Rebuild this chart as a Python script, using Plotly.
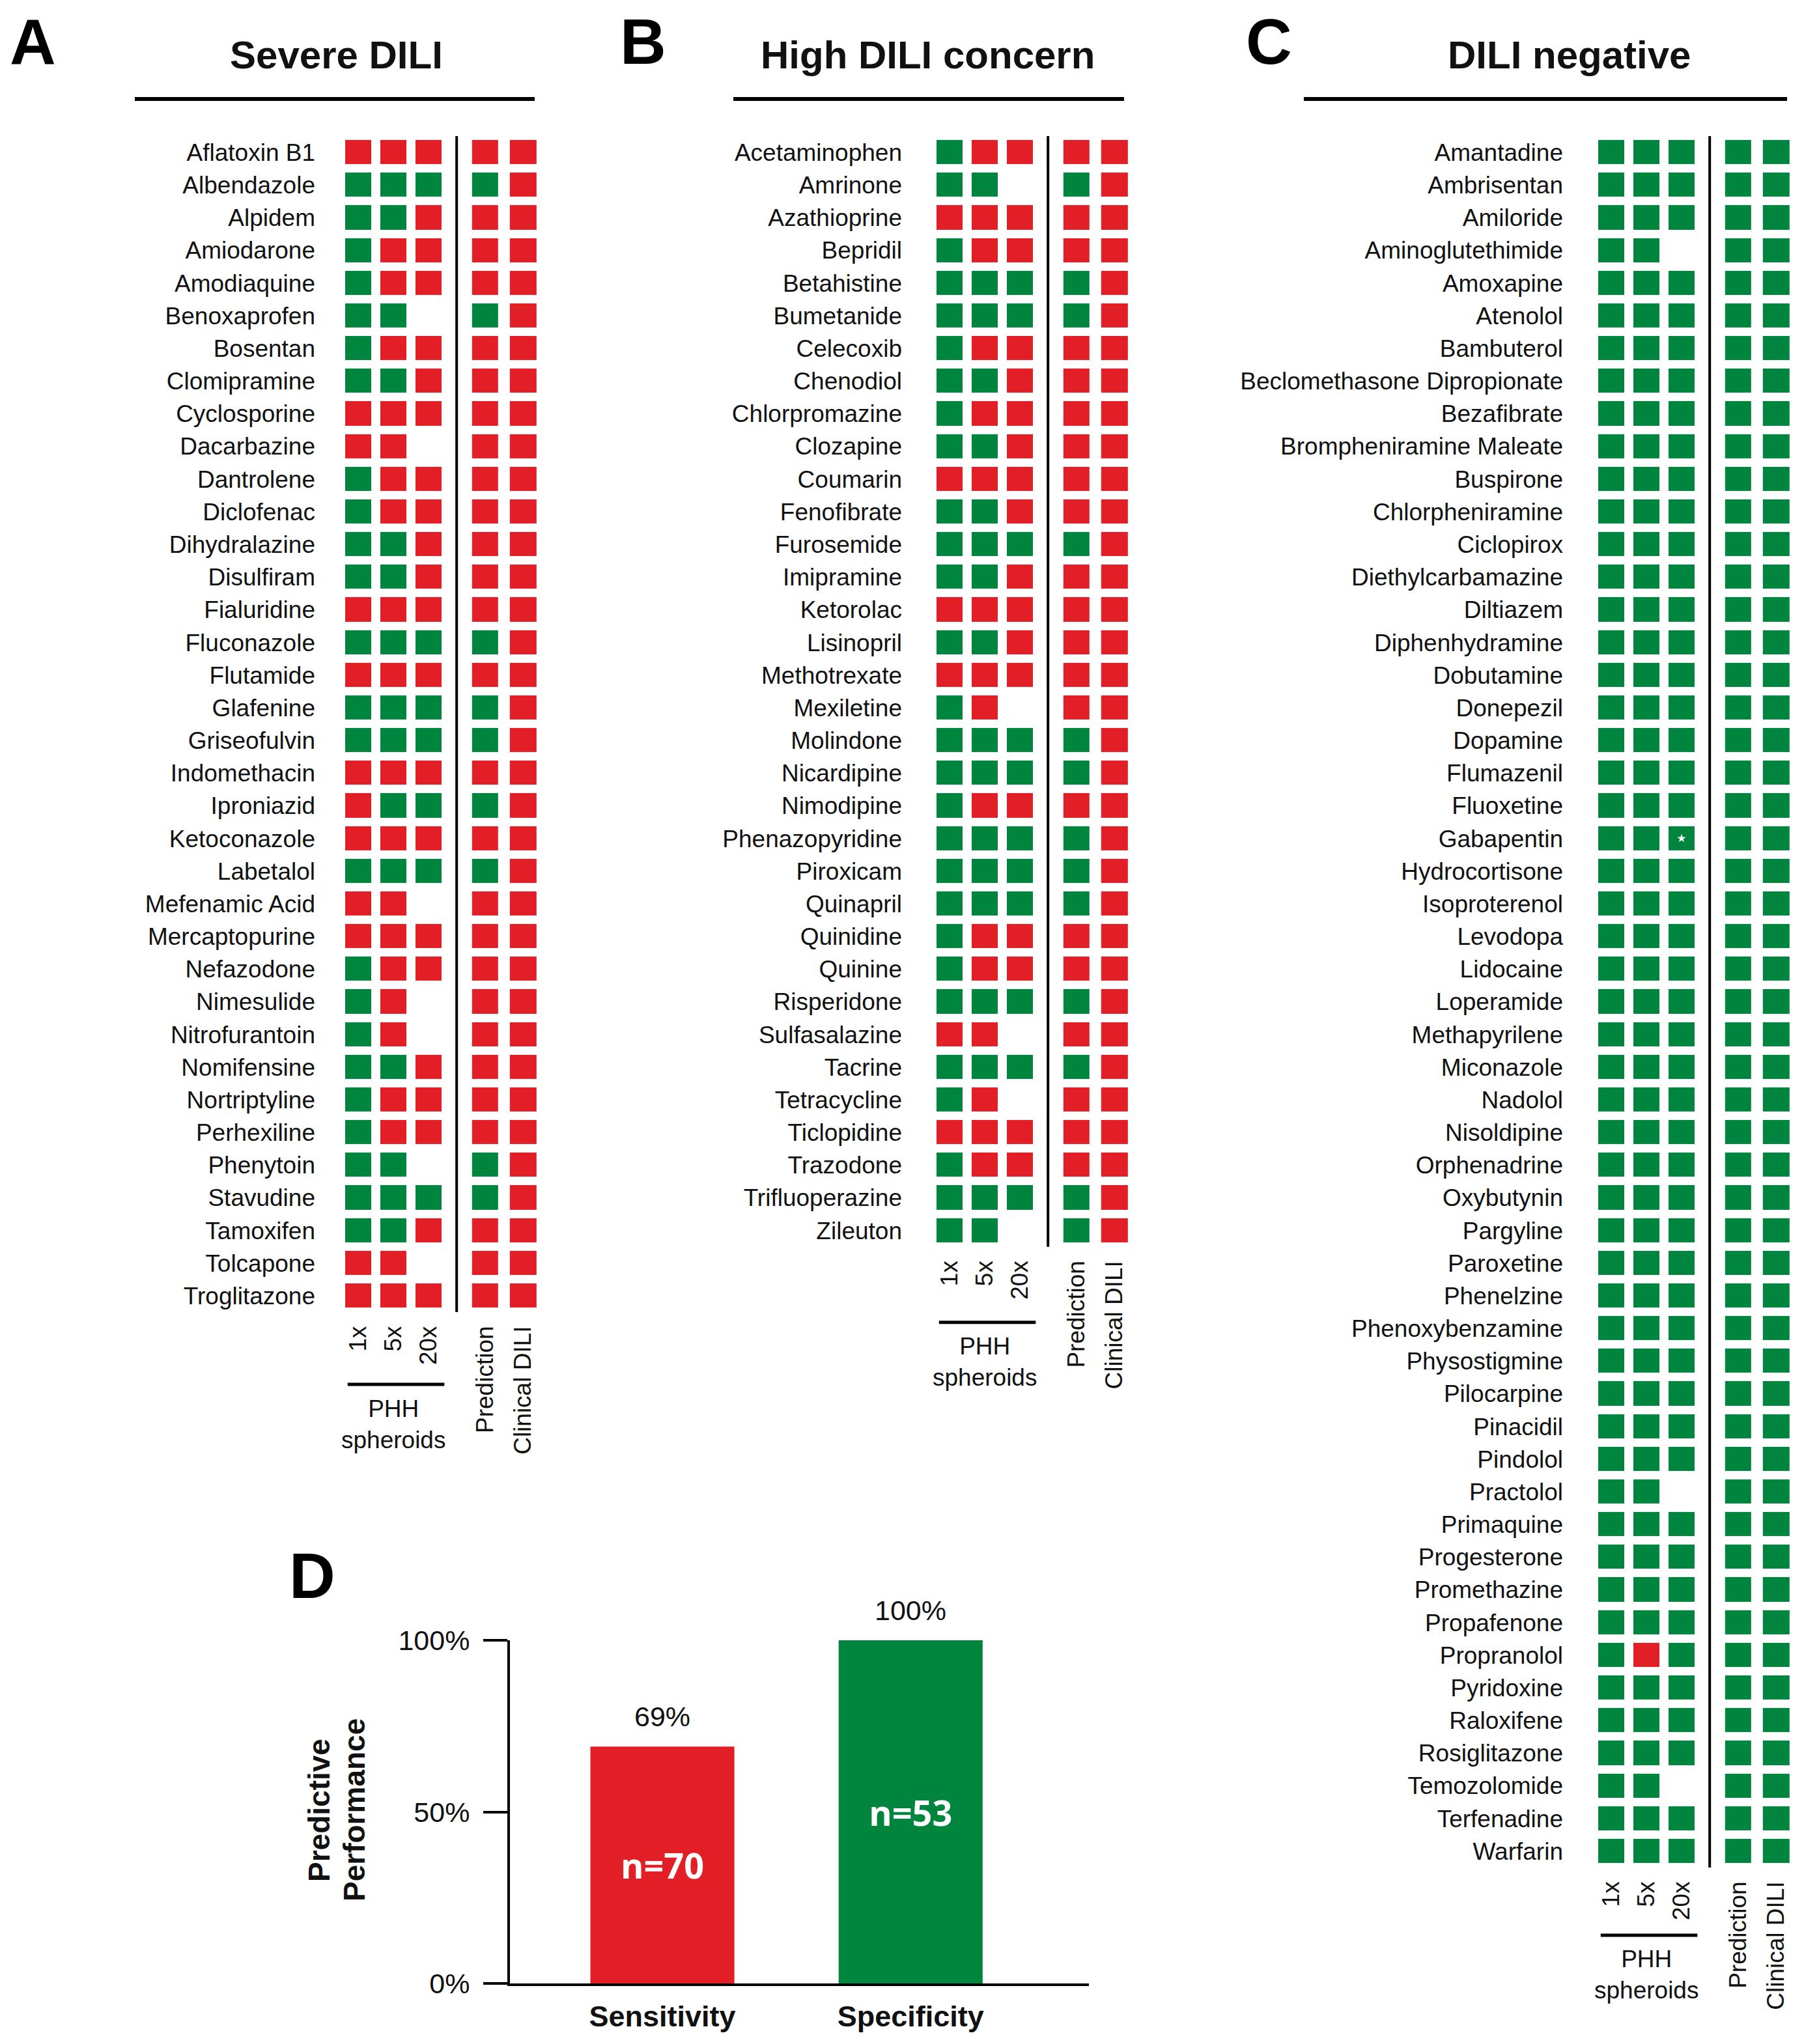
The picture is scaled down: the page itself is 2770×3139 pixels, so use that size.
import plotly.graph_objects as go

# ---------------- data ----------------
R, G, N = 1, 0, None   # R = toxic (red), G = non-toxic (green), N = not tested

columns = ["1x", "5x", "20x", "Prediction", "Clinical DILI"]

severe_drugs = ["Aflatoxin B1", "Albendazole", "Alpidem", "Amiodarone", "Amodiaquine",
                "Benoxaprofen", "Bosentan", "Clomipramine", "Cyclosporine", "Dacarbazine",
                "Dantrolene", "Diclofenac", "Dihydralazine", "Disulfiram", "Fialuridine",
                "Fluconazole", "Flutamide", "Glafenine", "Griseofulvin", "Indomethacin",
                "Iproniazid", "Ketoconazole", "Labetalol", "Mefenamic Acid", "Mercaptopurine",
                "Nefazodone", "Nimesulide", "Nitrofurantoin", "Nomifensine", "Nortriptyline",
                "Perhexiline", "Phenytoin", "Stavudine", "Tamoxifen", "Tolcapone", "Troglitazone"]
severe_1x = [R, G, G, G, G, G, G, G, R, R, G, G, G, G, R, G, R, G,
             G, R, R, R, G, R, R, G, G, G, G, G, G, G, G, G, R, R]
severe_5x = [R, G, G, R, R, G, R, G, R, R, R, R, G, G, R, G, R, G,
             G, R, G, R, G, R, R, R, R, R, G, R, R, G, G, G, R, R]
severe_20x = [R, G, R, R, R, N, R, R, R, N, R, R, R, R, R, G, R, G,
              G, R, G, R, G, N, R, R, N, N, R, R, R, N, G, R, N, R]
severe_pred = [R, G, R, R, R, G, R, R, R, R, R, R, R, R, R, G, R, G,
               G, R, G, R, G, R, R, R, R, R, R, R, R, G, G, R, R, R]
severe_clin = [R, R, R, R, R, R, R, R, R, R, R, R, R, R, R, R, R, R,
               R, R, R, R, R, R, R, R, R, R, R, R, R, R, R, R, R, R]

concern_drugs = ["Acetaminophen", "Amrinone", "Azathioprine", "Bepridil", "Betahistine",
                 "Bumetanide", "Celecoxib", "Chenodiol", "Chlorpromazine", "Clozapine",
                 "Coumarin", "Fenofibrate", "Furosemide", "Imipramine", "Ketorolac",
                 "Lisinopril", "Methotrexate", "Mexiletine", "Molindone", "Nicardipine",
                 "Nimodipine", "Phenazopyridine", "Piroxicam", "Quinapril", "Quinidine",
                 "Quinine", "Risperidone", "Sulfasalazine", "Tacrine", "Tetracycline",
                 "Ticlopidine", "Trazodone", "Trifluoperazine", "Zileuton"]
concern_1x = [G, G, R, G, G, G, G, G, G, G, R, G, G, G, R, G, R,
              G, G, G, G, G, G, G, G, G, G, R, G, G, R, G, G, G]
concern_5x = [R, G, R, R, G, G, R, G, R, G, R, G, G, G, R, G, R,
              R, G, G, R, G, G, G, R, R, G, R, G, R, R, R, G, G]
concern_20x = [R, N, R, R, G, G, R, R, R, R, R, R, G, R, R, R, R,
               N, G, G, R, G, G, G, R, R, G, N, G, N, R, R, G, N]
concern_pred = [R, G, R, R, G, G, R, R, R, R, R, R, G, R, R, R, R,
                R, G, G, R, G, G, G, R, R, G, R, G, R, R, R, G, G]
concern_clin = [R, R, R, R, R, R, R, R, R, R, R, R, R, R, R, R, R,
                R, R, R, R, R, R, R, R, R, R, R, R, R, R, R, R, R]

negative_drugs = ["Amantadine", "Ambrisentan", "Amiloride", "Aminoglutethimide", "Amoxapine",
                  "Atenolol", "Bambuterol", "Beclomethasone Dipropionate", "Bezafibrate",
                  "Brompheniramine Maleate", "Buspirone", "Chlorpheniramine", "Ciclopirox",
                  "Diethylcarbamazine", "Diltiazem", "Diphenhydramine", "Dobutamine", "Donepezil",
                  "Dopamine", "Flumazenil", "Fluoxetine", "Gabapentin", "Hydrocortisone",
                  "Isoproterenol", "Levodopa", "Lidocaine", "Loperamide", "Methapyrilene",
                  "Miconazole", "Nadolol", "Nisoldipine", "Orphenadrine", "Oxybutynin",
                  "Pargyline", "Paroxetine", "Phenelzine", "Phenoxybenzamine", "Physostigmine",
                  "Pilocarpine", "Pinacidil", "Pindolol", "Practolol", "Primaquine",
                  "Progesterone", "Promethazine", "Propafenone", "Propranolol", "Pyridoxine",
                  "Raloxifene", "Rosiglitazone", "Temozolomide", "Terfenadine", "Warfarin"]
negative_1x = [G, G, G, G, G, G, G, G, G, G, G, G, G, G, G, G, G, G,
               G, G, G, G, G, G, G, G, G, G, G, G, G, G, G, G, G, G,
               G, G, G, G, G, G, G, G, G, G, G, G, G, G, G, G, G]
negative_5x = [G, G, G, G, G, G, G, G, G, G, G, G, G, G, G, G, G, G,
               G, G, G, G, G, G, G, G, G, G, G, G, G, G, G, G, G, G,
               G, G, G, G, G, G, G, G, G, G, R, G, G, G, G, G, G]
negative_20x = [G, G, G, N, G, G, G, G, G, G, G, G, G, G, G, G, G, G,
                G, G, G, G, G, G, G, G, G, G, G, G, G, G, G, G, G, G,
                G, G, G, G, G, N, G, G, G, G, G, G, G, G, N, G, G]
negative_pred = [G, G, G, G, G, G, G, G, G, G, G, G, G, G, G, G, G, G,
                 G, G, G, G, G, G, G, G, G, G, G, G, G, G, G, G, G, G,
                 G, G, G, G, G, G, G, G, G, G, G, G, G, G, G, G, G]
negative_clin = [G, G, G, G, G, G, G, G, G, G, G, G, G, G, G, G, G, G,
                 G, G, G, G, G, G, G, G, G, G, G, G, G, G, G, G, G, G,
                 G, G, G, G, G, G, G, G, G, G, G, G, G, G, G, G, G]
negative_flagged = ["Gabapentin"]      # marked with a star at 20x
flag_column = "20x"

metrics = ["Sensitivity", "Specificity"]
performance = [0.69, 1.00]
n_compounds = [70, 53]

# ---------------- styling / layout ----------------
RED = "#E21E26"
GREEN = "#00853E"
FONT = "Liberation Sans, Arial, Helvetica, sans-serif"
TXT = "#111111"

W, H = 2770, 3139
OFF = 8   # page body margin compensation


def fx(p):
    return (p - OFF) / W


def fy(p):
    return 1 - (p - OFF) / H


UNIT = 54.0            # px per column unit
PITCH = 50.17          # px per row
ROW0 = 234             # centre of the first row
COL_POS = [0, 1, 2, 3.61, 4.69]
SEP_POS = 2.8

panels = [
    dict(drugs=severe_drugs, cols=[severe_1x, severe_5x, severe_20x, severe_pred, severe_clin],
         x0=550, title="Severe DILI", title_x=516, uline=(207, 821), letter="A",
         letter_xy=(50, 64), standoff=38, group_dy=111),
    dict(drugs=concern_drugs, cols=[concern_1x, concern_5x, concern_20x, concern_pred, concern_clin],
         x0=1458, title="High DILI concern", title_x=1424, uline=(1126, 1726), letter="B",
         letter_xy=(988, 64), standoff=45, group_dy=116),
    dict(drugs=negative_drugs, cols=[negative_1x, negative_5x, negative_20x, negative_pred, negative_clin],
         x0=2474, title="DILI negative", title_x=2409, uline=(2002, 2744), letter="C",
         letter_xy=(1948, 64), standoff=46, group_dy=104),
]

fig = go.Figure()
layout = dict(width=W, height=H, margin=dict(l=0, r=0, t=0, b=0, pad=0, autoexpand=False),
              autosize=False, paper_bgcolor="white", plot_bgcolor="white", showlegend=False,
              font=dict(family=FONT, color=TXT))
shapes, annotations = [], []
cscale = [[0, GREEN], [0.5, GREEN], [0.5, RED], [1, RED]]

for k, p in enumerate(panels, start=1):
    sfx = "" if k == 1 else str(k)
    xa, ya = "x" + sfx, "y" + sfx
    xk, yk = "xaxis" + sfx, "yaxis" + sfx
    drugs = p["drugs"]
    n = len(drugs)
    top = ROW0 - PITCH / 2
    bottom = ROW0 + (n - 1) * PITCH + PITCH / 2
    left = p["x0"] - UNIT / 2
    span = 5.9
    c = p["cols"]
    z_phh = [[c[0][i], c[1][i], c[2][i]] for i in range(n)]
    z_out = [[c[3][i], c[4][i]] for i in range(n)]
    fig.add_trace(go.Heatmap(z=z_phh, x=COL_POS[:3], y=drugs, xaxis=xa, yaxis=ya,
                             zmin=0, zmax=1, colorscale=cscale, showscale=False,
                             xgap=14, ygap=13, hoverinfo="skip"))
    fig.add_trace(go.Heatmap(z=z_out, x=COL_POS[3:], y=drugs, xaxis=xa, yaxis=ya,
                             zmin=0, zmax=1, colorscale=cscale, showscale=False,
                             xgap=18, ygap=13, hoverinfo="skip"))
    layout[xk] = dict(domain=[fx(left), fx(left + UNIT * span)], range=[-0.5, -0.5 + span],
                      anchor=ya, showgrid=False, zeroline=False, showline=False, ticks="",
                      automargin=False,
                      tickmode="array", tickvals=COL_POS, ticktext=columns, tickangle=-90,
                      tickfont=dict(size=37, family=FONT, color=TXT), ticklabelstandoff=13)
    layout[yk] = dict(domain=[fy(bottom), fy(top)], range=[n - 0.5, -0.5], type="category",
                      anchor=xa, showgrid=False, zeroline=False, showline=False, ticks="",
                      automargin=False,
                      tickfont=dict(size=37, family=FONT, color=TXT),
                      ticklabelstandoff=p["standoff"])
    # separator between PHH columns and prediction columns
    shapes.append(dict(type="line", xref=xa, yref=ya + " domain", x0=SEP_POS, x1=SEP_POS,
                       y0=0, y1=1, line=dict(color="black", width=4)))
    # PHH group bar + label
    gy = bottom + p["group_dy"]
    shapes.append(dict(type="line", xref=xa, yref="paper", x0=-0.3, x1=2.45,
                       y0=fy(gy), y1=fy(gy), line=dict(color="black", width=5)))
    annotations.append(dict(xref=xa, yref="paper", x=1, y=fy(gy + 61), text="PHH<br>spheroids",
                            showarrow=False, xanchor="center", yanchor="middle",
                            font=dict(size=37, family=FONT, color=TXT)))
    # titles, underline, letters
    annotations.append(dict(xref="paper", yref="paper", x=fx(p["title_x"]), y=fy(84),
                            text=p["title"], showarrow=False, xanchor="center", yanchor="middle",
                            font=dict(size=60, family=FONT, color=TXT, weight="bold")))
    shapes.append(dict(type="line", xref="paper", yref="paper", x0=fx(p["uline"][0]),
                       x1=fx(p["uline"][1]), y0=fy(152), y1=fy(152),
                       line=dict(color="black", width=6)))
    annotations.append(dict(xref="paper", yref="paper", x=fx(p["letter_xy"][0]),
                            y=fy(p["letter_xy"][1]), text=p["letter"], showarrow=False,
                            xanchor="center", yanchor="middle",
                            font=dict(size=98, family=FONT, color="black", weight="bold")))

# starred cell in panel C
fig.add_trace(go.Scatter(x=[COL_POS[columns.index(flag_column)]] * len(negative_flagged),
                         y=negative_flagged, xaxis="x3", yaxis="y3", mode="markers",
                         marker=dict(symbol="star", color="white", size=10, line=dict(width=0)),
                         hoverinfo="skip"))

# ---------------- panel D ----------------
fig.add_trace(go.Bar(x=metrics, y=performance, width=0.58, marker=dict(color=[RED, GREEN], line=dict(width=0)),
                     text=[f"n={v}" for v in n_compounds], textposition="inside",
                     insidetextanchor="middle", textangle=0,
                     insidetextfont=dict(color="white", size=54, family="Open Sans, Liberation Sans", weight="bold"),
                     xaxis="x4", yaxis="y4", hoverinfo="skip", cliponaxis=False))
layout["xaxis4"] = dict(domain=[fx(783), fx(1672)], range=[-0.614, 1.718], anchor="y4",
                        type="category", showline=True, linewidth=4, linecolor="black",
                        showgrid=False, zeroline=False, ticks="", automargin=False,
                        tickfont=dict(size=45, family=FONT, color=TXT, weight="bold"),
                        ticklabelstandoff=8)
layout["yaxis4"] = dict(domain=[fy(3046), fy(2519)], range=[0, 1], anchor="x4",
                        showline=True, linewidth=4, linecolor="black", showgrid=False,
                        zeroline=False, ticks="outside", ticklen=37, tickwidth=4, tickcolor="black",
                        tickvals=[0, 0.5, 1], tickformat=".0%", automargin=False,
                        tickfont=dict(size=43, family=FONT, color=TXT), ticklabelstandoff=12)
for m, v in zip(metrics, performance):
    annotations.append(dict(xref="x4", yref="y4", x=m, y=v, text=f"{v:.0%}", showarrow=False,
                            xanchor="center", yanchor="bottom", yshift=20,
                            font=dict(size=43, family=FONT, color=TXT)))
annotations.append(dict(xref="paper", yref="paper", x=fx(490), y=fy(2780), text="Predictive",
                        textangle=-90, showarrow=False, xanchor="center", yanchor="middle",
                        font=dict(size=46, family=FONT, color=TXT, weight="bold")))
annotations.append(dict(xref="paper", yref="paper", x=fx(544), y=fy(2780), text="Performance",
                        textangle=-90, showarrow=False, xanchor="center", yanchor="middle",
                        font=dict(size=46, family=FONT, color=TXT, weight="bold")))
annotations.append(dict(xref="paper", yref="paper", x=fx(479), y=fy(2420), text="D", showarrow=False,
                        xanchor="center", yanchor="middle",
                        font=dict(size=98, family=FONT, color="black", weight="bold")))

layout["shapes"] = shapes
layout["annotations"] = annotations
fig.update_layout(**layout)
fig.write_html("out.html")
